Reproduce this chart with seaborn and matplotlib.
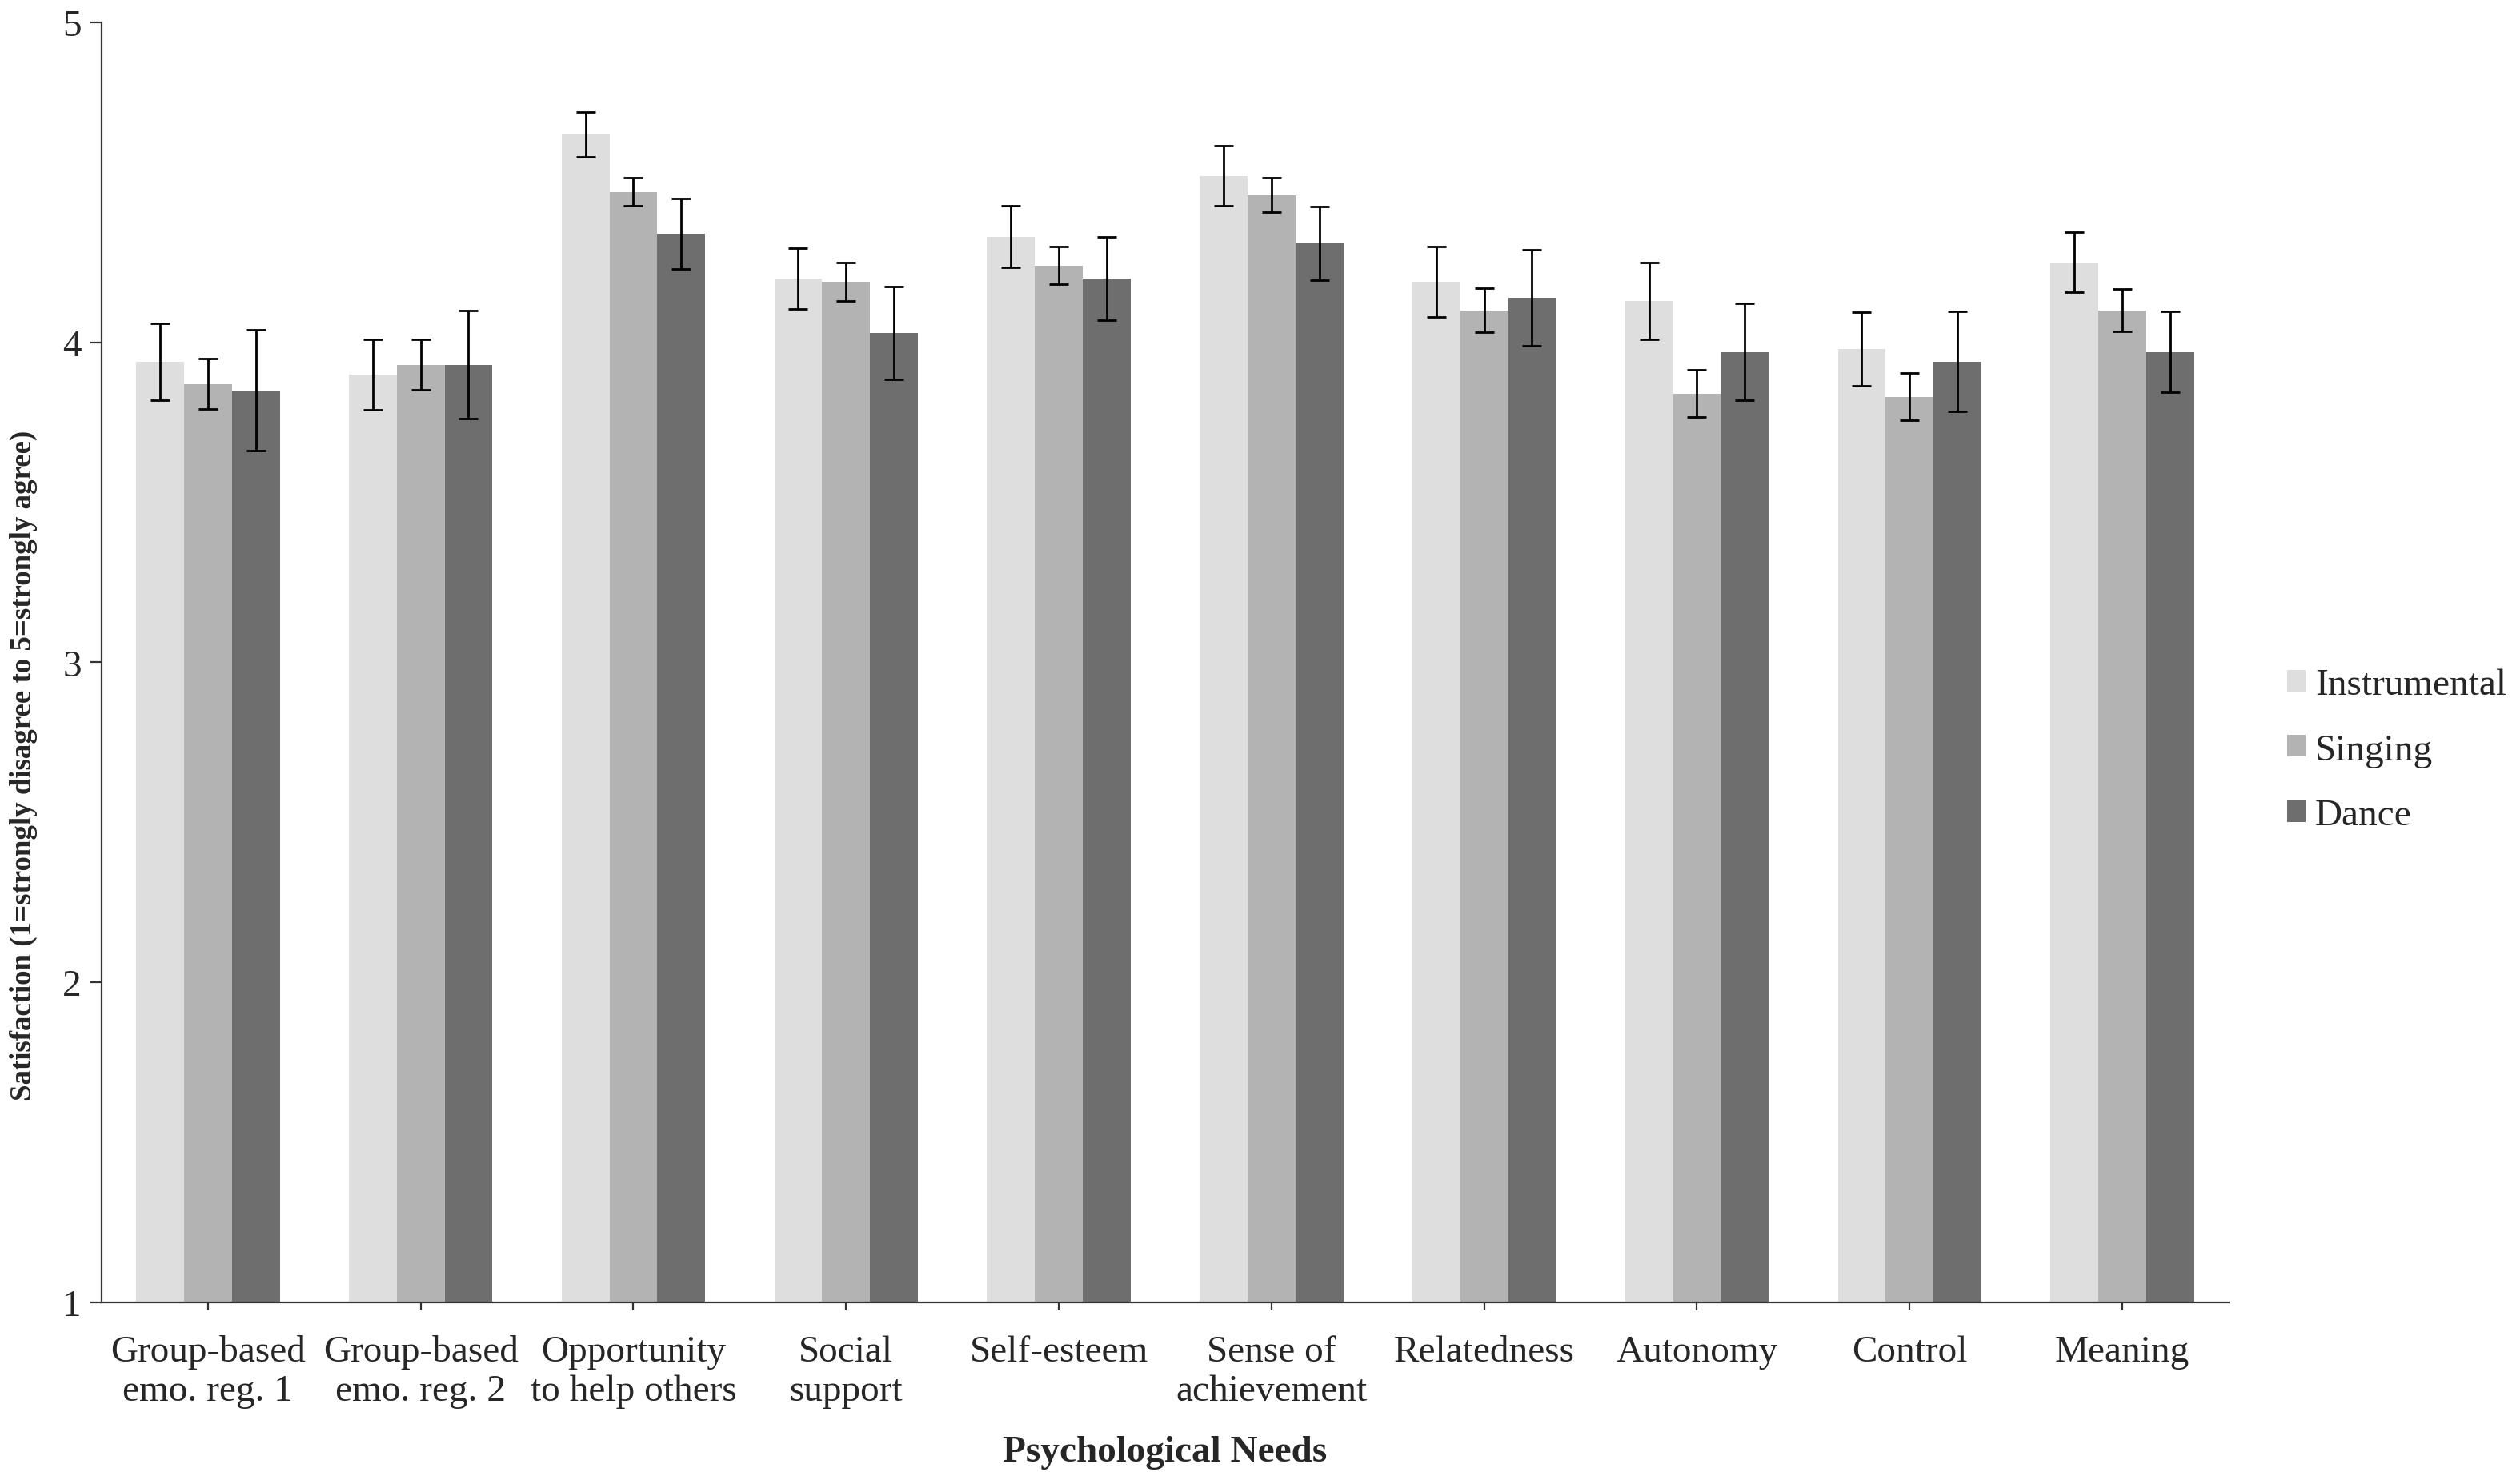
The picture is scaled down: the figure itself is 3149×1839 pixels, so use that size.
import matplotlib
matplotlib.use("Agg")
import matplotlib.pyplot as plt
import pandas as pd
import seaborn as sns

needs = ["Group-based\nemo. reg. 1", "Group-based\nemo. reg. 2", "Opportunity\nto help others",
         "Social\nsupport", "Self-esteem", "Sense of\nachievement", "Relatedness",
         "Autonomy", "Control", "Meaning"]
groups = ["Instrumental", "Singing", "Dance"]

instrumental = [3.94, 3.90, 4.65, 4.20, 4.33, 4.52, 4.19, 4.13, 3.98, 4.25]
singing = [3.87, 3.93, 4.47, 4.19, 4.24, 4.46, 4.10, 3.84, 3.83, 4.10]
dance = [3.85, 3.93, 4.34, 4.03, 4.20, 4.31, 4.14, 3.97, 3.94, 3.97]

instrumental_err = [0.12, 0.11, 0.07, 0.095, 0.097, 0.093, 0.11, 0.12, 0.115, 0.093]
singing_err = [0.078, 0.078, 0.044, 0.06, 0.058, 0.054, 0.069, 0.074, 0.074, 0.067]
dance_err = [0.19, 0.17, 0.11, 0.145, 0.13, 0.115, 0.15, 0.152, 0.157, 0.127]

colors = ["#dedede", "#b3b3b3", "#6e6e6e"]

means = {"Instrumental": instrumental, "Singing": singing, "Dance": dance}
errs = {"Instrumental": instrumental_err, "Singing": singing_err, "Dance": dance_err}

df = pd.DataFrame([{"need": n, "group": g, "value": means[g][i], "err": errs[g][i]}
                   for g in groups for i, n in enumerate(needs)])

sns.set_style("white")
plt.rcParams["font.family"] = ["Liberation Serif", "DejaVu Serif"]

fig = plt.figure(figsize=(15.745, 9.2), dpi=200)
ax = fig.add_axes([0.0403, 0.1152, 0.8441, 0.8692])

sns.barplot(data=df, x="need", y="value", hue="group", order=needs, hue_order=groups,
            palette=colors, width=0.675, errorbar=None, saturation=1, linewidth=0, ax=ax)

# error bars on top of each bar
for container, g in zip(ax.containers, groups):
    xs = [p.get_x() + p.get_width() / 2 for p in container]
    ax.errorbar(xs, means[g], yerr=errs[g], fmt="none", ecolor="black",
                elinewidth=1.0, capsize=4.2, capthick=1.0)

fs = 17
ax.set_ylim(1, 5)
ax.set_xlim(-0.5, 9.5)
ax.set_yticks([1, 2, 3, 4, 5])
ax.tick_params(axis="y", labelsize=fs, length=5, width=0.8, direction="out", pad=4, color="#333333")
ax.tick_params(axis="x", labelsize=fs, length=3.5, width=0.8, direction="out", pad=11, color="#333333")
ax.set_xticks([-0.5, 9.5], minor=True)
ax.tick_params(axis="x", which="minor", length=3.5, width=0.8, direction="out", color="#333333")
ax.tick_params(left=True, bottom=True)
for lbl in ax.get_xticklabels():
    lbl.set_linespacing(1.2)

sns.despine(ax=ax)
for s in ["left", "bottom"]:
    ax.spines[s].set_color("#333333")
    ax.spines[s].set_linewidth(0.8)

ax.set_xlabel("Psychological Needs", fontsize=fs, fontweight="bold")
ax.xaxis.set_label_coords(0.5, -0.104)
ax.set_ylabel("Satisfaction (1=strongly disagree to 5=strongly agree)", fontsize=13.3, fontweight="bold")
ax.yaxis.set_label_coords(-0.03, 0.42)

ax.legend(loc="center left", bbox_to_anchor=(0.900, 0.49), bbox_transform=fig.transFigure,
          frameon=False, fontsize=fs, handlelength=0.5, handleheight=0.5,
          handletextpad=0.25, labelspacing=0.83, borderpad=0)

fig.savefig("out.png", dpi=200)
